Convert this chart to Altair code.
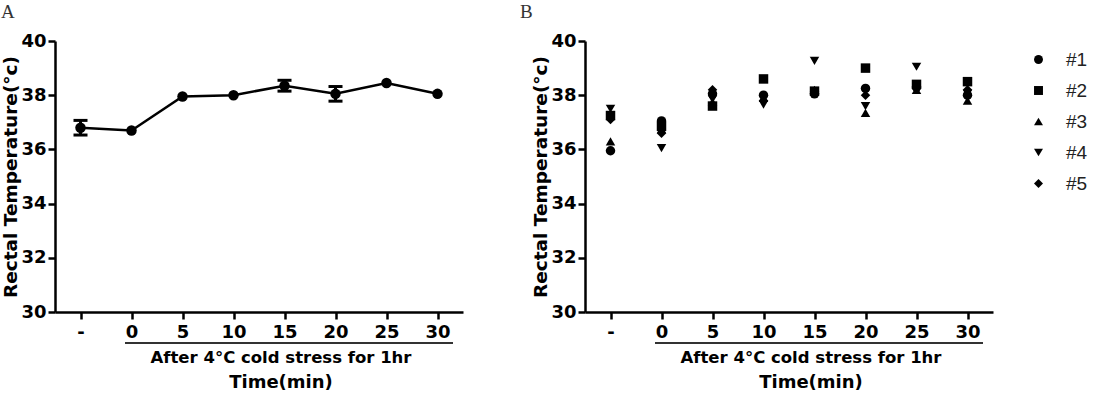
import altair as alt
import pandas as pd

# ---- data ----
times = ["-", "0", "5", "10", "15", "20", "25", "30"]

# Panel A: mean rectal temperature and SEM
mean_a = [36.8, 36.7, 37.95, 38.0, 38.35, 38.05, 38.45, 38.05]
sem_a = [0.27, 0.05, 0.04, 0.05, 0.2, 0.27, 0.05, 0.04]

# Panel B: individual animals
mice = ["#1", "#2", "#3", "#4", "#5"]
m1 = [35.95, 37.05, 38.05, 38.0, 38.05, 38.25, 38.3, 38.0]
m2 = [37.25, 36.85, 37.6, 38.6, 38.15, 39.0, 38.4, 38.5]
m3 = [36.3, 36.75, 37.75, 37.9, 38.2, 37.35, 38.2, 37.8]
m4 = [37.5, 36.05, 37.85, 37.65, 39.27, 37.6, 39.05, 38.05]
m5 = [37.1, 36.6, 38.2, 37.8, 38.15, 38.0, 38.25, 38.2]
shapes = ["circle", "square", "triangle-up", "triangle-down", "diamond"]

y_ticks = [30, 32, 34, 36, 38, 40]
y_title = "Rectal Temperature(°c)"
x_note = ["After 4°C cold stress for 1hr"]
x_title = ["Time(min)"]
panel_a = ["A"]
panel_b = ["B"]

# ---- tables ----
df_a = pd.DataFrame({"time": times, "mean": mean_a, "sem": sem_a})
df_a["lo"] = df_a["mean"] - df_a["sem"]
df_a["hi"] = df_a["mean"] + df_a["sem"]

rows = []
for mid, vals in zip(mice, [m1, m2, m3, m4, m5]):
    for t, v in zip(times, vals):
        rows.append({"time": t, "mouse": mid, "temp": v})
df_b = pd.DataFrame(rows)

W, H = 408, 271
BOLD = "DejaVu Sans"

x_axis = alt.Axis(title=None, labelAngle=0, labelFont=BOLD, labelFontWeight="bold",
                  labelFontSize=18, labelColor="black", labelPadding=4,
                  tickSize=7, tickWidth=2.5, tickColor="black",
                  domainWidth=2.5, domainColor="black", grid=False)
y_axis = alt.Axis(title=y_title, values=y_ticks, labelFont=BOLD, labelFontWeight="bold",
                  labelFontSize=18, labelColor="black", labelPadding=2,
                  tickSize=7, tickWidth=2.5, tickColor="black",
                  domainWidth=2.5, domainColor="black", grid=False,
                  titleFont=BOLD, titleFontWeight="bold", titleFontSize=18.5,
                  titleColor="black", titleAngle=270, titleBaseline="alphabetic",
                  titleAlign="center", titleX=-39, titleY=H / 2)
x_scale = alt.Scale(type="point", padding=0.5)
y_scale = alt.Scale(domain=[30, 40], nice=False, zero=False)


def decorations(label_list, lx):
    base_note = alt.Chart(pd.DataFrame({"t": x_note}))
    underline = base_note.mark_rule(color="#333333", strokeWidth=2).encode(
        x=alt.value(70), x2=alt.value(398), y=alt.value(302))
    note = base_note.mark_text(font=BOLD, fontWeight="bold", fontSize=16.5,
                               color="black", baseline="alphabetic", align="center").encode(
        text="t:N", x=alt.value(226), y=alt.value(322))
    title = alt.Chart(pd.DataFrame({"t": x_title})).mark_text(
        font=BOLD, fontWeight="bold", fontSize=18, color="black",
        baseline="alphabetic", align="center").encode(
        text="t:N", x=alt.value(226), y=alt.value(347))
    plabel = alt.Chart(pd.DataFrame({"t": label_list})).mark_text(
        font="Liberation Serif", fontSize=19, color="#333333",
        baseline="alphabetic", align="left").encode(
        text="t:N", x=alt.value(lx), y=alt.value(-23))
    return [underline, note, title, plabel]


# ---- panel A ----
xa = alt.X("time:N", sort=times, scale=x_scale, axis=x_axis)
base_a = alt.Chart(df_a)
line_a = base_a.mark_line(color="black", strokeWidth=2.5).encode(
    x=xa, y=alt.Y("mean:Q", scale=y_scale, axis=y_axis))
pts_a = base_a.mark_point(filled=True, size=110, color="black", opacity=1).encode(
    x=xa, y=alt.Y("mean:Q", scale=y_scale))
err_a = base_a.transform_filter("datum.sem > 0.1").mark_rule(
    color="black", strokeWidth=3, opacity=1).encode(
    x=xa, y=alt.Y("lo:Q", scale=y_scale), y2="hi:Q")
cap_lo = base_a.transform_filter("datum.sem > 0.1").mark_tick(
    color="black", size=14, thickness=3, orient="horizontal", opacity=1).encode(
    x=xa, y=alt.Y("lo:Q", scale=y_scale))
cap_hi = base_a.transform_filter("datum.sem > 0.1").mark_tick(
    color="black", size=14, thickness=3, orient="horizontal", opacity=1).encode(
    x=xa, y=alt.Y("hi:Q", scale=y_scale))

chart_a = alt.layer(line_a, err_a, cap_lo, cap_hi, pts_a, *decorations(panel_a, -54)).properties(
    width=W, height=H)

# ---- panel B ----
xb = alt.X("time:N", sort=times, scale=x_scale, axis=x_axis)
pts_b = alt.Chart(df_b).mark_point(filled=True, size=90, color="black", opacity=1).encode(
    x=xb,
    y=alt.Y("temp:Q", scale=y_scale, axis=y_axis),
    shape=alt.Shape("mouse:N", scale=alt.Scale(domain=mice, range=shapes),
                    legend=alt.Legend(title=None, orient="none", legendX=444, legendY=9,
                                      symbolSize=80, symbolFillColor="black",
                                      symbolStrokeColor="black", symbolStrokeWidth=0,
                                      labelFont="Liberation Sans", labelFontSize=19,
                                      labelColor="#222222", labelOffset=18,
                                      rowPadding=11)),
)
chart_b = alt.layer(pts_b, *decorations(panel_b, -65)).properties(width=W, height=H)

chart = alt.hconcat(chart_a, chart_b, spacing=122, bounds="flush").resolve_scale(
    x="independent", y="independent", shape="independent"
).resolve_legend(shape="independent").properties(
    padding={"left": 0, "top": 3, "right": 0, "bottom": 0},
    background="white",
).configure_view(stroke=None)

chart.save("out.html", embed_options={"renderer": "svg", "actions": False})
